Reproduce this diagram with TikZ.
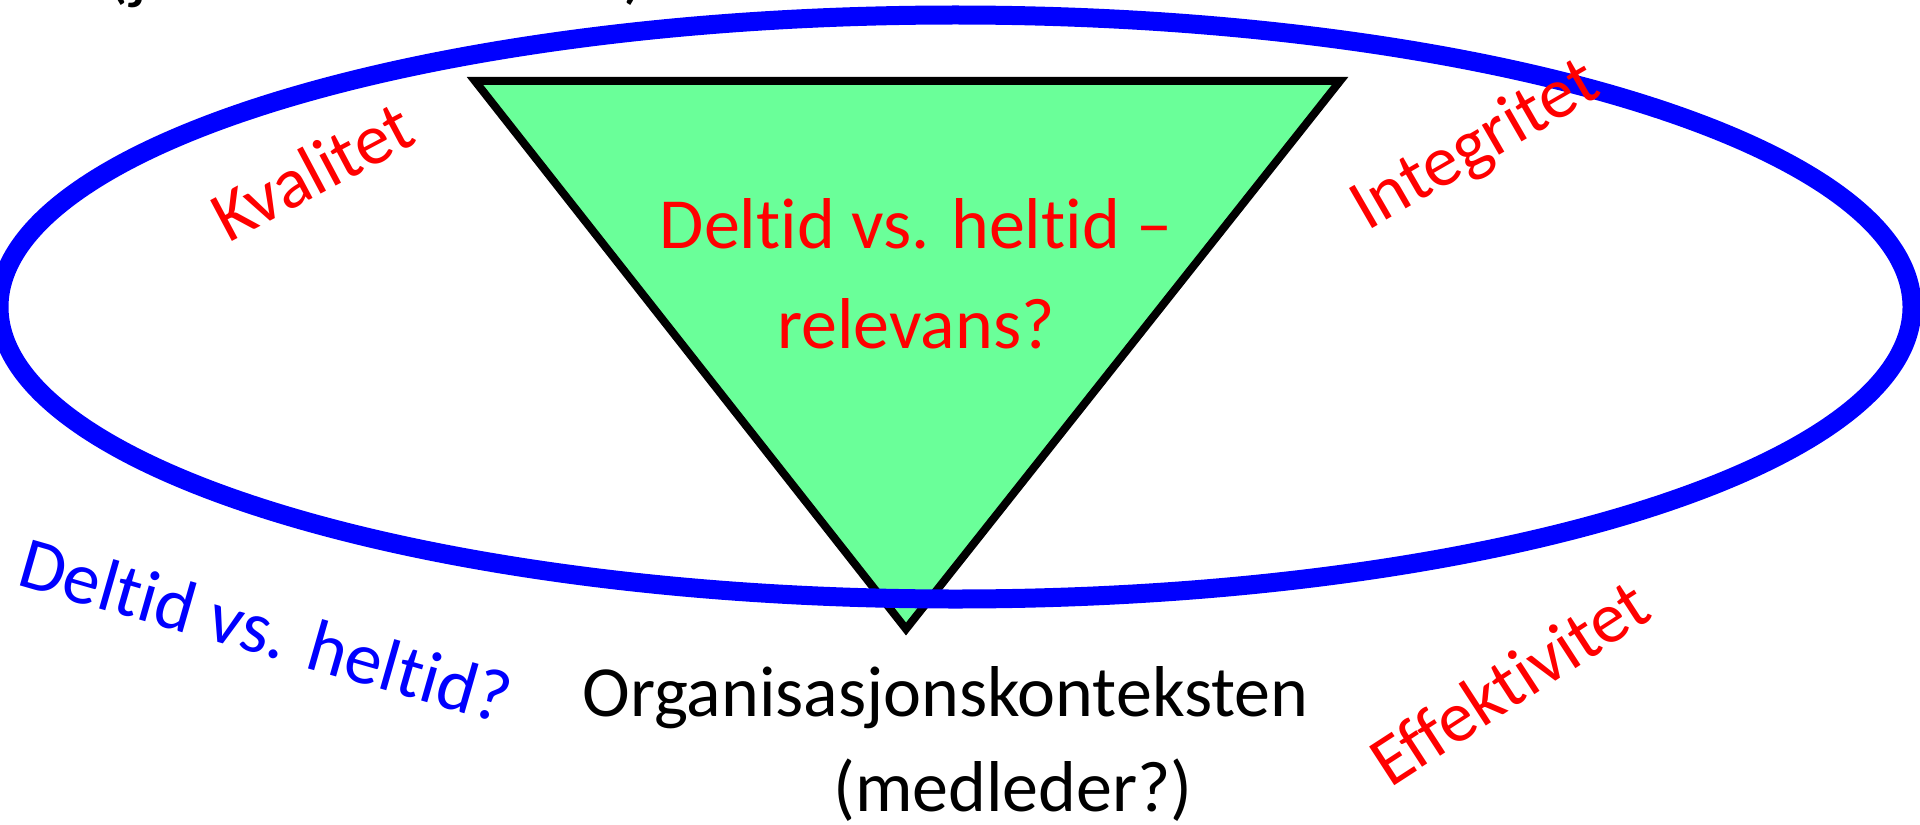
\documentclass[tikz,border=0pt]{standalone}
\usepackage{fontspec}
\setmainfont{Carlito}[Ligatures=NoCommon]
\definecolor{funnelgreen}{RGB}{106,255,153}
\tikzset{
  word/.style={inner sep=0pt, font=\fontsize{36}{44}\selectfont},
  redword/.style={word, text=red},
}
\begin{document}
\begin{tikzpicture}[x=0.5pt, y=-0.5pt]
      \useasboundingbox (0,0) rectangle (1920,824);
      \clip (0,0) rectangle (1920,824);

      % line cut off at the top edge
      \node[word, anchor=base west] (cut) at (106,-4) {(j\hspace{238pt})};

      % funnel
      \coordinate (tl) at (475,81);
      \coordinate (tr) at (1340,81);
      \coordinate (bt) at (906,629);
      \draw[line width=4pt, fill=funnelgreen, line join=miter] (tl) -- (tr) -- (bt) -- cycle;

      % ring
      \draw[line width=9.5pt, blue] (955.5,307) ellipse [x radius=956.5, y radius=292];

      \node[redword, align=center, font=\fontsize{36}{50}\selectfont] (rel) at (916,274) {Deltid vs. heltid --\\relevans?};

      \node[redword, rotate=28] (kval) at (312,171) {Kvalitet};
      \node[redword, rotate=30] (integ) at (1476,147) {Integritet};
      \node[redword, rotate=33] (eff) at (1509,682) {Effektivitet};

      \node[word, text=blue, rotate=-16, font=\fontsize{37}{44}\selectfont] (deltid) at (266,630) {Deltid vs. heltid?};

      \node[word, anchor=base west] (org) at (582,716) {Organisasjonskonteksten};
      \node[word, anchor=base west] (med) at (833,811) {(medleder?)};
    \end{tikzpicture}
\end{document}
